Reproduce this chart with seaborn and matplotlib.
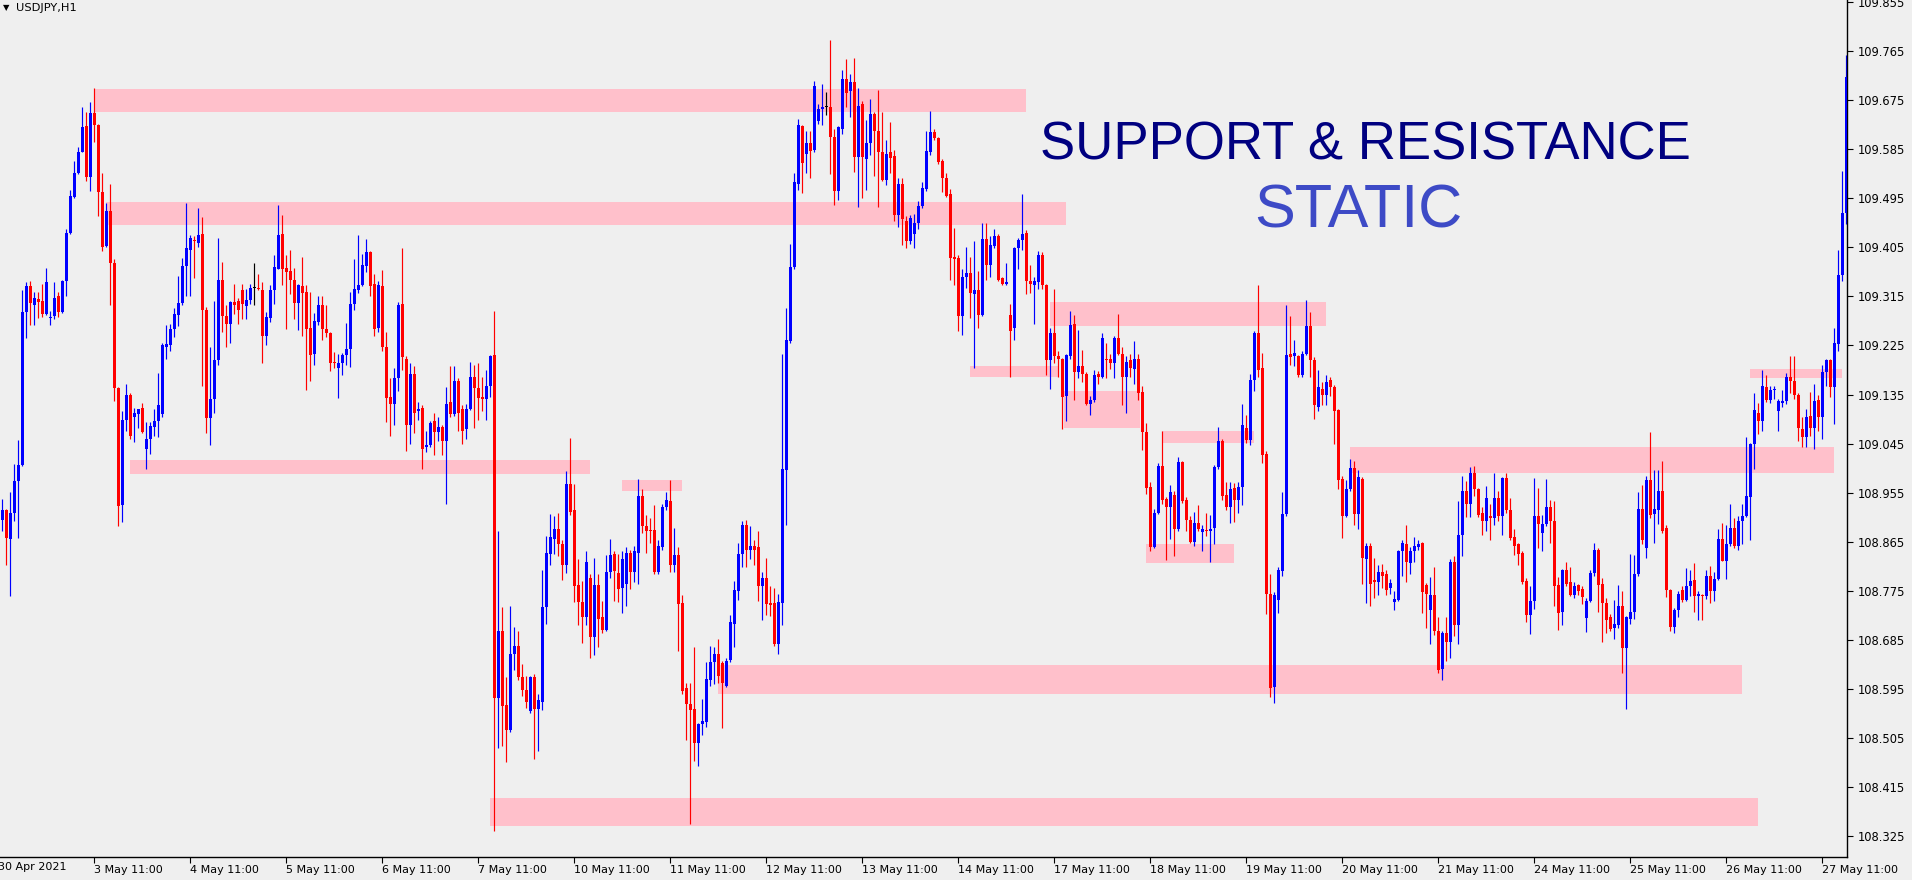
import numpy as np
import pandas as pd
import matplotlib
matplotlib.use("Agg")
import matplotlib.pyplot as plt
import seaborn as sns

# ---------------- data (USDJPY H1, 30 Apr 2021 12:00 -> 27 May 2021 17:00) ----------------
open_ = [
 108.905,108.923,108.870,108.918,108.977,109.006,109.286,109.334,109.299,109.311,109.306,109.283,
 109.276,109.279,109.315,109.286,109.344,109.432,109.497,109.542,109.580,109.628,109.534,109.651,
 109.630,109.507,109.408,109.472,109.376,109.147,108.933,109.088,109.135,109.094,109.100,109.111,
 109.036,109.054,109.076,109.086,109.099,109.223,109.225,109.255,109.281,109.303,109.371,109.401,
 109.419,109.413,109.430,109.291,109.092,109.127,109.199,109.346,109.279,109.265,109.304,109.306,
 109.326,109.298,109.308,109.331,109.331,109.326,109.242,109.276,109.326,109.366,109.430,109.368,
 109.361,109.346,109.303,109.334,109.323,109.257,109.210,109.268,109.299,109.255,109.248,109.195,
 109.183,109.193,109.208,109.218,109.301,109.326,109.336,109.371,109.396,109.338,109.258,109.334,
 109.223,109.130,109.118,109.165,109.301,109.200,109.079,109.172,109.104,109.111,109.038,109.042,
 109.086,109.066,109.076,109.049,109.122,109.099,109.160,109.109,109.071,109.109,109.168,109.147,
 109.130,109.127,109.150,109.208,108.579,108.702,108.566,108.519,108.660,108.674,108.617,108.593,
 108.554,108.617,108.559,108.571,108.745,108.843,108.870,108.888,108.860,108.823,108.971,108.923,
 108.785,108.754,108.727,108.798,108.690,108.785,108.727,108.704,108.810,108.843,108.808,108.780,
 108.788,108.845,108.810,108.845,108.949,108.893,108.886,108.886,108.810,108.856,108.928,108.939,
 108.823,108.840,108.752,108.596,108.568,108.558,108.496,108.531,108.534,108.612,108.645,108.660,
 108.642,108.601,108.649,108.715,108.775,108.843,108.895,108.850,108.858,108.855,108.783,108.798,
 108.752,108.752,108.677,108.752,108.997,109.233,109.369,109.522,109.628,109.577,109.597,109.584,
 109.636,109.658,109.663,109.663,109.608,109.509,109.623,109.713,109.691,109.708,109.570,109.668,
 109.567,109.597,109.650,109.618,109.579,109.529,109.579,109.572,109.464,109.522,109.454,109.416,
 109.430,109.449,109.480,109.512,109.580,109.616,109.605,109.564,109.532,109.502,109.388,109.386,
 109.279,109.351,109.358,109.319,109.326,109.281,109.421,109.373,109.408,109.426,109.348,109.338,
 109.281,109.258,109.404,109.419,109.432,109.343,109.336,109.341,109.391,109.336,109.198,109.248,
 109.205,109.200,109.132,109.205,109.265,109.177,109.188,109.172,109.117,109.125,109.173,109.168,
 109.200,109.200,109.192,109.238,109.210,109.167,109.198,109.182,109.200,109.140,109.066,108.966,
 108.855,108.918,109.004,108.944,108.928,108.951,108.888,109.012,108.942,108.905,108.865,108.900,
 108.883,108.887,108.885,108.890,109.002,109.049,108.951,108.928,108.964,108.942,108.966,109.074,
 109.052,109.162,109.247,109.183,109.026,108.769,108.599,108.759,108.811,108.916,109.210,109.205,
 109.205,109.170,109.210,109.260,109.198,109.113,109.145,109.135,109.162,109.148,109.106,108.981,
 108.913,108.961,109.001,108.916,108.981,108.833,108.858,108.795,108.791,108.810,108.805,108.780,
 108.754,108.759,108.848,108.860,108.826,108.848,108.856,108.863,108.785,108.740,108.767,108.702,
 108.632,108.697,108.682,108.828,108.712,108.878,108.959,108.935,108.992,108.962,108.918,108.903,
 108.913,108.908,108.946,108.913,108.982,108.923,108.873,108.860,108.845,108.793,108.730,108.757,
 108.913,108.881,108.898,108.928,108.903,108.785,108.737,108.813,108.791,108.767,108.785,108.778,
 108.725,108.757,108.808,108.850,108.788,108.752,108.727,108.707,108.712,108.747,108.670,108.724,
 108.737,108.805,108.925,108.853,108.979,108.916,108.923,108.959,108.890,108.776,108.709,108.739,
 108.776,108.759,108.783,108.795,108.765,108.767,108.765,108.803,108.774,108.796,108.870,108.830,
 108.860,108.891,108.858,108.903,108.913,108.947,109.044,109.102,109.087,109.148,109.125,109.143,
 109.104,109.120,109.123,109.168,109.160,109.135,109.071,109.057,109.096,109.074,109.125,109.094,
 109.177,109.198,109.148,109.227,109.354,109.468]
high = [
 108.944,108.925,108.957,109.007,109.051,109.326,109.341,109.343,109.323,109.323,109.337,109.367,
 109.289,109.341,109.324,109.346,109.439,109.510,109.564,109.589,109.663,109.653,109.671,109.698,
 109.632,109.542,109.487,109.522,109.384,109.149,109.104,109.155,109.137,109.111,109.109,109.120,
 109.084,109.084,109.109,109.175,109.230,109.262,109.265,109.293,109.353,109.386,109.487,109.428,
 109.426,109.477,109.460,109.295,109.223,109.306,109.423,109.378,109.299,109.306,109.338,109.313,
 109.338,109.329,109.338,109.376,109.356,109.341,109.286,109.336,109.391,109.482,109.464,109.391,
 109.401,109.368,109.338,109.388,109.336,109.323,109.284,109.316,109.316,109.299,109.250,109.213,
 109.210,109.212,109.267,109.324,109.383,109.428,109.393,109.420,109.398,109.356,109.344,109.364,
 109.250,109.165,109.183,109.304,109.404,109.205,109.192,109.187,109.122,109.115,109.069,109.087,
 109.101,109.094,109.079,109.148,109.187,109.188,109.165,109.115,109.117,109.195,109.190,109.192,
 109.167,109.180,109.207,109.288,108.885,108.745,108.617,108.747,108.709,108.702,108.640,108.619,
 108.619,108.622,108.586,108.813,108.875,108.916,108.913,108.918,108.868,108.994,109.056,108.971,
 108.833,108.793,108.848,108.805,108.836,108.805,108.757,108.840,108.870,108.848,108.843,108.848,
 108.855,108.850,108.858,108.981,108.961,108.915,108.908,108.933,108.868,108.935,108.957,108.979,
 108.890,108.855,108.767,108.606,108.606,108.672,108.533,108.576,108.644,108.674,108.672,108.687,
 108.647,108.652,108.730,108.793,108.863,108.903,108.905,108.893,108.868,108.885,108.810,108.835,
 108.783,108.780,108.769,109.210,109.293,109.411,109.542,109.641,109.630,109.618,109.618,109.710,
 109.668,109.705,109.690,109.786,109.623,109.628,109.731,109.750,109.723,109.753,109.698,109.673,
 109.638,109.678,109.653,109.693,109.653,109.602,109.635,109.584,109.532,109.532,109.462,109.464,
 109.467,109.490,109.524,109.618,109.655,109.623,109.608,109.567,109.542,109.512,109.440,109.391,
 109.366,109.406,109.388,109.416,109.361,109.449,109.449,109.426,109.439,109.430,109.351,109.376,
 109.301,109.406,109.423,109.502,109.437,109.373,109.351,109.398,109.396,109.338,109.258,109.328,
 109.215,109.202,109.210,109.289,109.281,109.253,109.217,109.177,109.132,109.180,109.178,109.247,
 109.230,109.210,109.243,109.283,109.222,109.205,109.210,109.233,109.210,109.150,109.082,108.974,
 108.925,109.009,109.069,108.947,108.969,108.959,109.021,109.014,108.947,108.913,108.920,108.933,
 108.896,108.918,108.915,109.006,109.076,109.054,108.974,108.974,108.972,108.974,109.117,109.097,
 109.172,109.252,109.336,109.212,109.032,108.806,108.772,108.818,108.956,109.299,109.279,109.235,
 109.207,109.215,109.308,109.286,109.203,109.180,109.158,109.170,109.168,109.152,109.109,108.986,
 108.979,109.016,109.014,108.996,108.984,108.863,108.863,108.836,108.823,108.825,108.813,108.796,
 108.775,108.850,108.868,108.896,108.855,108.873,108.868,108.865,108.790,108.801,108.818,108.727,
 108.702,108.727,108.833,108.838,108.939,108.986,108.976,109.002,109.004,108.964,108.928,108.967,
 108.935,108.992,108.959,108.984,108.991,108.946,108.888,108.863,108.848,108.798,108.783,108.982,
 108.964,108.915,108.981,108.942,108.939,108.800,108.815,108.828,108.818,108.791,108.788,108.783,
 108.762,108.813,108.863,108.853,108.798,108.762,108.732,108.759,108.786,108.775,108.729,108.843,
 108.841,108.956,108.969,108.986,109.067,108.996,108.996,109.014,108.895,108.778,108.744,108.775,
 108.783,108.816,108.813,108.826,108.775,108.769,108.813,108.820,108.810,108.888,108.900,108.895,
 108.935,108.908,108.913,108.935,109.057,109.046,109.137,109.120,109.180,109.170,109.150,109.150,
 109.127,109.143,109.175,109.205,109.205,109.137,109.094,109.109,109.140,109.155,109.135,109.190,
 109.200,109.200,109.257,109.401,109.545,109.757]
low = [
 108.885,108.823,108.765,108.903,108.871,109.004,109.238,109.263,109.263,109.276,109.278,109.281,
 109.263,109.274,109.278,109.284,109.316,109.430,109.495,109.539,109.579,109.527,109.509,109.599,
 109.462,109.398,109.406,109.299,109.123,108.893,108.901,109.069,109.054,109.048,109.074,109.064,
 108.999,109.026,109.059,109.057,109.094,109.200,109.215,109.240,109.260,109.299,109.316,109.316,
 109.348,109.406,109.150,109.064,109.042,109.102,109.190,109.250,109.222,109.230,109.283,109.265,
 109.274,109.274,109.301,109.299,109.326,109.192,109.225,109.268,109.301,109.366,109.336,109.255,
 109.319,109.274,109.253,109.243,109.143,109.160,109.190,109.263,109.235,109.240,109.178,109.183,
 109.128,109.170,109.190,109.185,109.291,109.321,109.334,109.359,109.316,109.242,109.250,109.215,
 109.084,109.059,109.079,109.142,109.180,109.032,109.044,109.064,109.089,108.999,109.029,109.039,
 109.024,109.049,109.024,108.935,109.094,109.096,109.069,109.044,109.054,109.106,109.074,109.089,
 109.104,109.089,109.130,108.335,108.486,108.491,108.461,108.516,108.630,108.612,108.583,108.561,
 108.551,108.466,108.481,108.556,108.714,108.823,108.843,108.838,108.795,108.808,108.915,108.755,
 108.712,108.680,108.712,108.652,108.657,108.672,108.697,108.702,108.798,108.757,108.755,108.735,
 108.747,108.778,108.791,108.788,108.881,108.845,108.863,108.805,108.805,108.850,108.923,108.810,
 108.810,108.665,108.586,108.501,108.348,108.463,108.453,108.511,108.526,108.601,108.604,108.606,
 108.524,108.598,108.644,108.672,108.759,108.818,108.818,108.833,108.823,108.757,108.722,108.730,
 108.729,108.674,108.660,108.712,108.895,109.230,109.366,109.510,109.505,109.542,109.532,109.580,
 109.631,109.630,109.648,109.539,109.482,109.492,109.613,109.663,109.645,109.544,109.479,109.495,
 109.510,109.574,109.535,109.479,109.527,109.520,109.542,109.454,109.442,109.409,109.404,109.411,
 109.404,109.439,109.477,109.509,109.575,109.602,109.557,109.507,109.497,109.346,109.336,109.252,
 109.245,109.331,109.276,109.183,109.257,109.279,109.346,109.351,109.403,109.344,109.336,109.336,
 109.167,109.235,109.366,109.401,109.319,109.321,109.265,109.329,109.329,109.170,109.145,109.192,
 109.167,109.071,109.086,109.200,109.125,109.165,109.158,109.115,109.097,109.122,109.155,109.165,
 109.165,109.182,109.165,109.207,109.115,109.102,109.167,109.155,109.125,109.034,108.952,108.848,
 108.853,108.916,108.935,108.831,108.870,108.838,108.885,108.937,108.885,108.863,108.858,108.885,
 108.848,108.875,108.828,108.860,108.999,108.942,108.923,108.900,108.901,108.918,108.933,109.046,
 109.042,109.142,109.168,109.009,108.732,108.581,108.569,108.734,108.803,108.913,109.190,109.187,
 109.167,109.167,109.207,109.167,109.091,109.104,109.115,109.115,109.132,109.044,108.961,108.871,
 108.911,108.959,108.895,108.888,108.788,108.752,108.747,108.762,108.767,108.781,108.767,108.769,
 108.739,108.757,108.803,108.791,108.806,108.828,108.850,108.735,108.707,108.677,108.694,108.624,
 108.612,108.647,108.652,108.692,108.677,108.838,108.911,108.911,108.949,108.911,108.878,108.885,
 108.868,108.895,108.903,108.878,108.918,108.868,108.841,108.823,108.788,108.717,108.695,108.742,
 108.853,108.848,108.893,108.863,108.747,108.704,108.712,108.783,108.765,108.762,108.767,108.750,
 108.700,108.754,108.803,108.737,108.682,108.697,108.702,108.687,108.707,108.624,108.558,108.714,
 108.724,108.803,108.861,108.835,108.908,108.863,108.898,108.881,108.764,108.702,108.697,108.727,
 108.755,108.757,108.765,108.737,108.722,108.722,108.760,108.752,108.757,108.795,108.830,108.796,
 108.858,108.853,108.850,108.860,108.911,108.868,108.999,109.062,109.069,109.122,109.120,109.127,
 109.069,109.113,109.117,109.137,109.127,109.049,109.039,109.039,109.059,109.036,109.069,109.054,
 109.150,109.130,109.081,109.215,109.343,109.447]
close = [
 108.923,108.871,108.918,108.977,109.006,109.286,109.334,109.303,109.313,109.305,109.283,109.342,
 109.278,109.313,109.286,109.344,109.432,109.499,109.542,109.580,109.626,109.534,109.651,109.630,
 109.507,109.406,109.472,109.376,109.147,108.931,109.088,109.135,109.059,109.101,109.108,109.066,
 109.054,109.077,109.086,109.115,109.225,109.227,109.255,109.283,109.303,109.371,109.403,109.423,
 109.416,109.428,109.291,109.092,109.127,109.199,109.346,109.279,109.265,109.304,109.299,109.291,
 109.301,109.309,109.331,109.331,109.328,109.242,109.278,109.326,109.369,109.428,109.366,109.359,
 109.346,109.303,109.336,109.321,109.255,109.208,109.270,109.299,109.255,109.247,109.192,109.192,
 109.193,109.208,109.218,109.301,109.328,109.336,109.373,109.396,109.334,109.255,109.336,109.223,
 109.128,109.118,109.165,109.300,109.203,109.079,109.173,109.102,109.109,109.036,109.042,109.082,
 109.066,109.076,109.049,109.118,109.099,109.160,109.102,109.069,109.109,109.168,109.147,109.128,
 109.127,109.150,109.205,108.579,108.702,108.564,108.519,108.660,108.674,108.617,108.593,108.571,
 108.617,108.559,108.574,108.745,108.845,108.873,108.888,108.860,108.823,108.971,108.920,108.783,
 108.754,108.727,108.828,108.690,108.785,108.724,108.704,108.810,108.840,108.811,108.778,108.833,
 108.845,108.810,108.848,108.949,108.893,108.885,108.884,108.810,108.858,108.928,108.941,108.823,
 108.840,108.750,108.591,108.568,108.556,108.496,108.531,108.536,108.614,108.645,108.660,108.619,
 108.606,108.647,108.717,108.776,108.843,108.896,108.850,108.858,108.850,108.783,108.798,108.750,
 108.749,108.677,108.754,108.999,109.235,109.369,109.525,109.630,109.560,109.597,109.582,109.701,
 109.658,109.663,109.663,109.608,109.509,109.625,109.713,109.688,109.708,109.570,109.665,109.570,
 109.597,109.650,109.618,109.579,109.529,109.577,109.569,109.464,109.522,109.457,109.416,109.459,
 109.450,109.480,109.514,109.582,109.616,109.605,109.562,109.532,109.500,109.386,109.384,109.279,
 109.351,109.358,109.321,109.326,109.281,109.421,109.373,109.409,109.426,109.346,109.338,109.342,
 109.252,109.404,109.419,109.430,109.343,109.338,109.343,109.391,109.336,109.198,109.248,109.205,
 109.200,109.130,109.207,109.262,109.177,109.188,109.172,109.118,109.125,109.170,109.168,109.238,
 109.198,109.192,109.238,109.210,109.167,109.195,109.183,109.200,109.138,109.066,108.964,108.855,
 108.918,109.004,108.942,108.928,108.957,108.888,109.012,108.939,108.905,108.865,108.900,108.888,
 108.888,108.885,108.888,109.002,109.049,108.949,108.928,108.962,108.942,108.966,109.079,109.052,
 109.162,109.247,109.180,109.024,108.770,108.596,108.767,108.813,108.916,109.207,109.203,109.212,
 109.170,109.210,109.260,109.198,109.115,109.148,109.135,109.158,109.148,109.104,108.979,108.913,
 108.961,109.001,108.916,108.984,108.835,108.858,108.788,108.791,108.810,108.803,108.776,108.790,
 108.760,108.848,108.863,108.828,108.848,108.858,108.860,108.772,108.769,108.767,108.702,108.630,
 108.697,108.682,108.828,108.712,108.878,108.959,108.935,108.992,108.962,108.915,108.903,108.946,
 108.908,108.946,108.913,108.982,108.923,108.871,108.858,108.843,108.791,108.730,108.757,108.913,
 108.898,108.898,108.928,108.903,108.783,108.735,108.813,108.788,108.767,108.783,108.774,108.764,
 108.757,108.808,108.850,108.786,108.752,108.722,108.705,108.714,108.747,108.670,108.727,108.737,
 108.805,108.925,108.868,108.979,108.915,108.925,108.959,108.885,108.776,108.709,108.739,108.769,
 108.759,108.783,108.793,108.765,108.769,108.765,108.803,108.774,108.796,108.870,108.830,108.860,
 108.891,108.858,108.903,108.913,108.949,109.044,109.106,109.087,109.150,109.125,109.143,109.145,
 109.123,109.123,109.168,109.160,109.135,109.074,109.057,109.094,109.074,109.123,109.094,109.177,
 109.198,109.148,109.229,109.354,109.468,109.717]

# support / resistance zones: candle-index span and price band
zone_from = [23, 26, 32, 155, 179, 122, 262, 242, 265.5, 290, 286, 337, 437]
zone_to   = [256, 266, 147, 170, 435, 439, 331, 264, 284.5, 313, 308, 458, 460]
zone_low  = [109.654, 109.446, 108.990, 108.958, 108.585, 108.343, 109.260, 109.167,
             109.074, 109.046, 108.826, 108.991, 109.165]
zone_high = [109.695, 109.488, 109.015, 108.978, 108.639, 108.395, 109.305, 109.188,
             109.142, 109.069, 108.861, 109.039, 109.182]

price_ticks = [108.325, 108.415, 108.505, 108.595, 108.685, 108.775, 108.865, 108.955,
               109.045, 109.135, 109.225, 109.315, 109.405, 109.495, 109.585, 109.675,
               109.765, 109.855]
symbol_label = "USDJPY,H1"
first_date_label = "30 Apr 2021"
headline = "SUPPORT & RESISTANCE"
subline = "STATIC"

# ---------------- frame ----------------
times = pd.date_range("2021-04-30 12:00", "2021-05-27 17:00", freq="h")
times = times[times.dayofweek < 5]
df = pd.DataFrame({"time": times, "open": open_, "high": high, "low": low, "close": close})
df["idx"] = np.arange(len(df))
df["dir"] = np.sign(df["close"] - df["open"])
palette = {1.0: "#0000ff", -1.0: "#ff0000", 0.0: "#000000"}
df["color"] = df["dir"].map(palette)

sns.set_theme(style="white")
plt.rcParams["font.family"] = ["DejaVu Sans"]

W, H = 1912, 880
BG = "#efefef"
fig = plt.figure(figsize=(W / 100, H / 100), dpi=100)
fig.patch.set_facecolor(BG)
ax = fig.add_axes([0, (H - 857) / H, 1847 / W, 857 / H])
ax.set_facecolor(BG)

# zones
for x0, x1, lo, hi in zip(zone_from, zone_to, zone_low, zone_high):
    ax.fill_between([x0, x1], lo, hi, color="#ffc0cb", lw=0, zorder=1)

# wicks
ax.vlines(df["idx"], df["low"], df["high"], colors=df["color"], linewidth=0.85, zorder=2)
# bodies
body_bottom = np.minimum(df["open"], df["close"])
body_height = np.maximum(np.abs(df["close"] - df["open"]), 0.0018)
ax.bar(df["idx"], body_height, bottom=body_bottom, width=0.78, color=df["color"],
       linewidth=0, zorder=3)

ax.set_xlim(-0.575, 461.175)
ax.set_ylim(108.2868, 109.8587)

# axes styling
for s in ["left", "top"]:
    ax.spines[s].set_visible(False)
for s in ["right", "bottom"]:
    ax.spines[s].set_visible(True)
    ax.spines[s].set_color("black")
    ax.spines[s].set_linewidth(1.0)
ax.grid(False)

ax.yaxis.tick_right()
ax.set_yticks(price_ticks)
ax.set_yticklabels([f"{v:.3f}" for v in price_ticks])
ax.tick_params(axis="y", direction="out", length=4, width=0.8, color="black",
               pad=4, labelsize=8.3, labelcolor="black", left=False, right=True)

tick_mask = df["time"].dt.hour == 11
tick_pos = df.loc[tick_mask, "idx"].tolist()
tick_lab = [f"{t.day} {t:%b} {t:%H:%M}" for t in df.loc[tick_mask, "time"]]
ax.set_xticks(tick_pos)
ax.set_xticklabels(tick_lab, ha="left")
ax.tick_params(axis="x", direction="out", length=4, width=0.8, color="black",
               pad=2, labelsize=8, labelcolor="black", bottom=True)
for lbl in ax.get_xticklabels():
    lbl.set_horizontalalignment("left")

fig.text(-2 / W, 1 - 862 / H, first_date_label, ha="left", va="top", fontsize=8, color="black")

# symbol header
fig.text(6 / W, 1 - 8 / H, "\u25BC", ha="center", va="center", fontsize=6, color="black")
fig.text(16 / W, 1 - 8 / H, symbol_label, ha="left", va="center", fontsize=8.2, color="black")

# headline text
fig.text(1365.5 / W, 1 - 159 / H, headline, ha="center", va="baseline",
         fontsize=38, color="#000080", family=["Liberation Sans", "DejaVu Sans"])
fig.text(1358 / W, 1 - 227.5 / H, subline, ha="center", va="baseline",
         fontsize=44, color="#3d4ac6", family=["Liberation Sans", "DejaVu Sans"])

fig.savefig("out.png", dpi=100, facecolor=BG)
